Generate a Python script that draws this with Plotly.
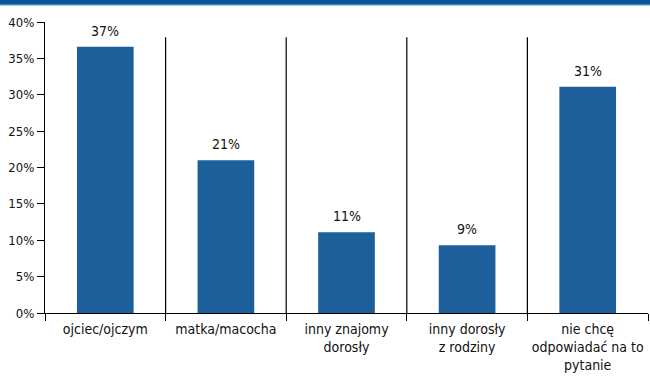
import plotly.graph_objects as go

categories = ["ojciec/ojczym", "matka/macocha", "inny znajomy<br>dorosły",
              "inny dorosły<br>z rodziny", "nie chcę<br>odpowiadać na to<br>pytanie"]
values = [36.6, 21.0, 11.1, 9.3, 31.1]
labels = ["37%", "21%", "11%", "9%", "31%"]
y_ticks = [0, 5, 10, 15, 20, 25, 30, 35, 40]
y_tick_labels = [f"{v}%" for v in y_ticks]

FONT = "DejaVu Sans Condensed"

fig = go.Figure()
fig.add_trace(go.Bar(
    x=categories, y=values,
    marker=dict(color="#1c5f9a", line=dict(width=0)),
    width=0.47, hoverinfo="skip",
))

# value labels above bars
for c, v, t in zip(categories, values, labels):
    fig.add_annotation(x=c, y=v, text=t, showarrow=False, yanchor="bottom",
                       yshift=6, font=dict(size=14, color="#111111", family=FONT))

# separator lines between categories
for i in range(1, len(categories)):
    fig.add_shape(type="line", xref="x", yref="y", x0=i - 0.5, x1=i - 0.5,
                  y0=0, y1=37.9, line=dict(color="black", width=1.2))

# top blue band
fig.add_shape(type="rect", xref="paper", yref="paper", x0=-1, x1=2,
              y0=1 + 18 / 291, y1=1 + 30 / 291, fillcolor="#0b5596",
              line=dict(width=0), layer="above")
fig.add_shape(type="rect", xref="paper", yref="paper", x0=-1, x1=2,
              y0=1 + 16.5 / 291, y1=1 + 18 / 291, fillcolor="#3a8fd0",
              line=dict(width=0), layer="above")

fig.update_layout(
    width=650, height=383,
    margin=dict(l=45, r=2, t=22, b=70),
    paper_bgcolor="white", plot_bgcolor="white",
    showlegend=False,
    font=dict(family=FONT, size=13, color="#111111"),
    xaxis=dict(
        type="category", showgrid=False, showline=True, linecolor="black",
        linewidth=1.2, ticks="outside", tickson="boundaries", ticklen=7,
        tickcolor="black", tickwidth=1.2, range=[-0.5, 4.5],
        tickfont=dict(size=14, family=FONT), tickangle=0, automargin=False,
        ticklabelstandoff=3,
    ),
    yaxis=dict(
        range=[0, 40], tickvals=y_ticks, ticktext=y_tick_labels,
        showgrid=False, showline=True, linecolor="black", linewidth=1.2,
        ticks="outside", ticklen=7, tickcolor="black", tickwidth=1.2,
        zeroline=False, tickfont=dict(size=13, family=FONT), automargin=False,
    ),
)

fig.write_html("out.html", config={"displayModeBar": False},
               post_script="document.body.style.margin='0';document.body.style.overflow='hidden';")
